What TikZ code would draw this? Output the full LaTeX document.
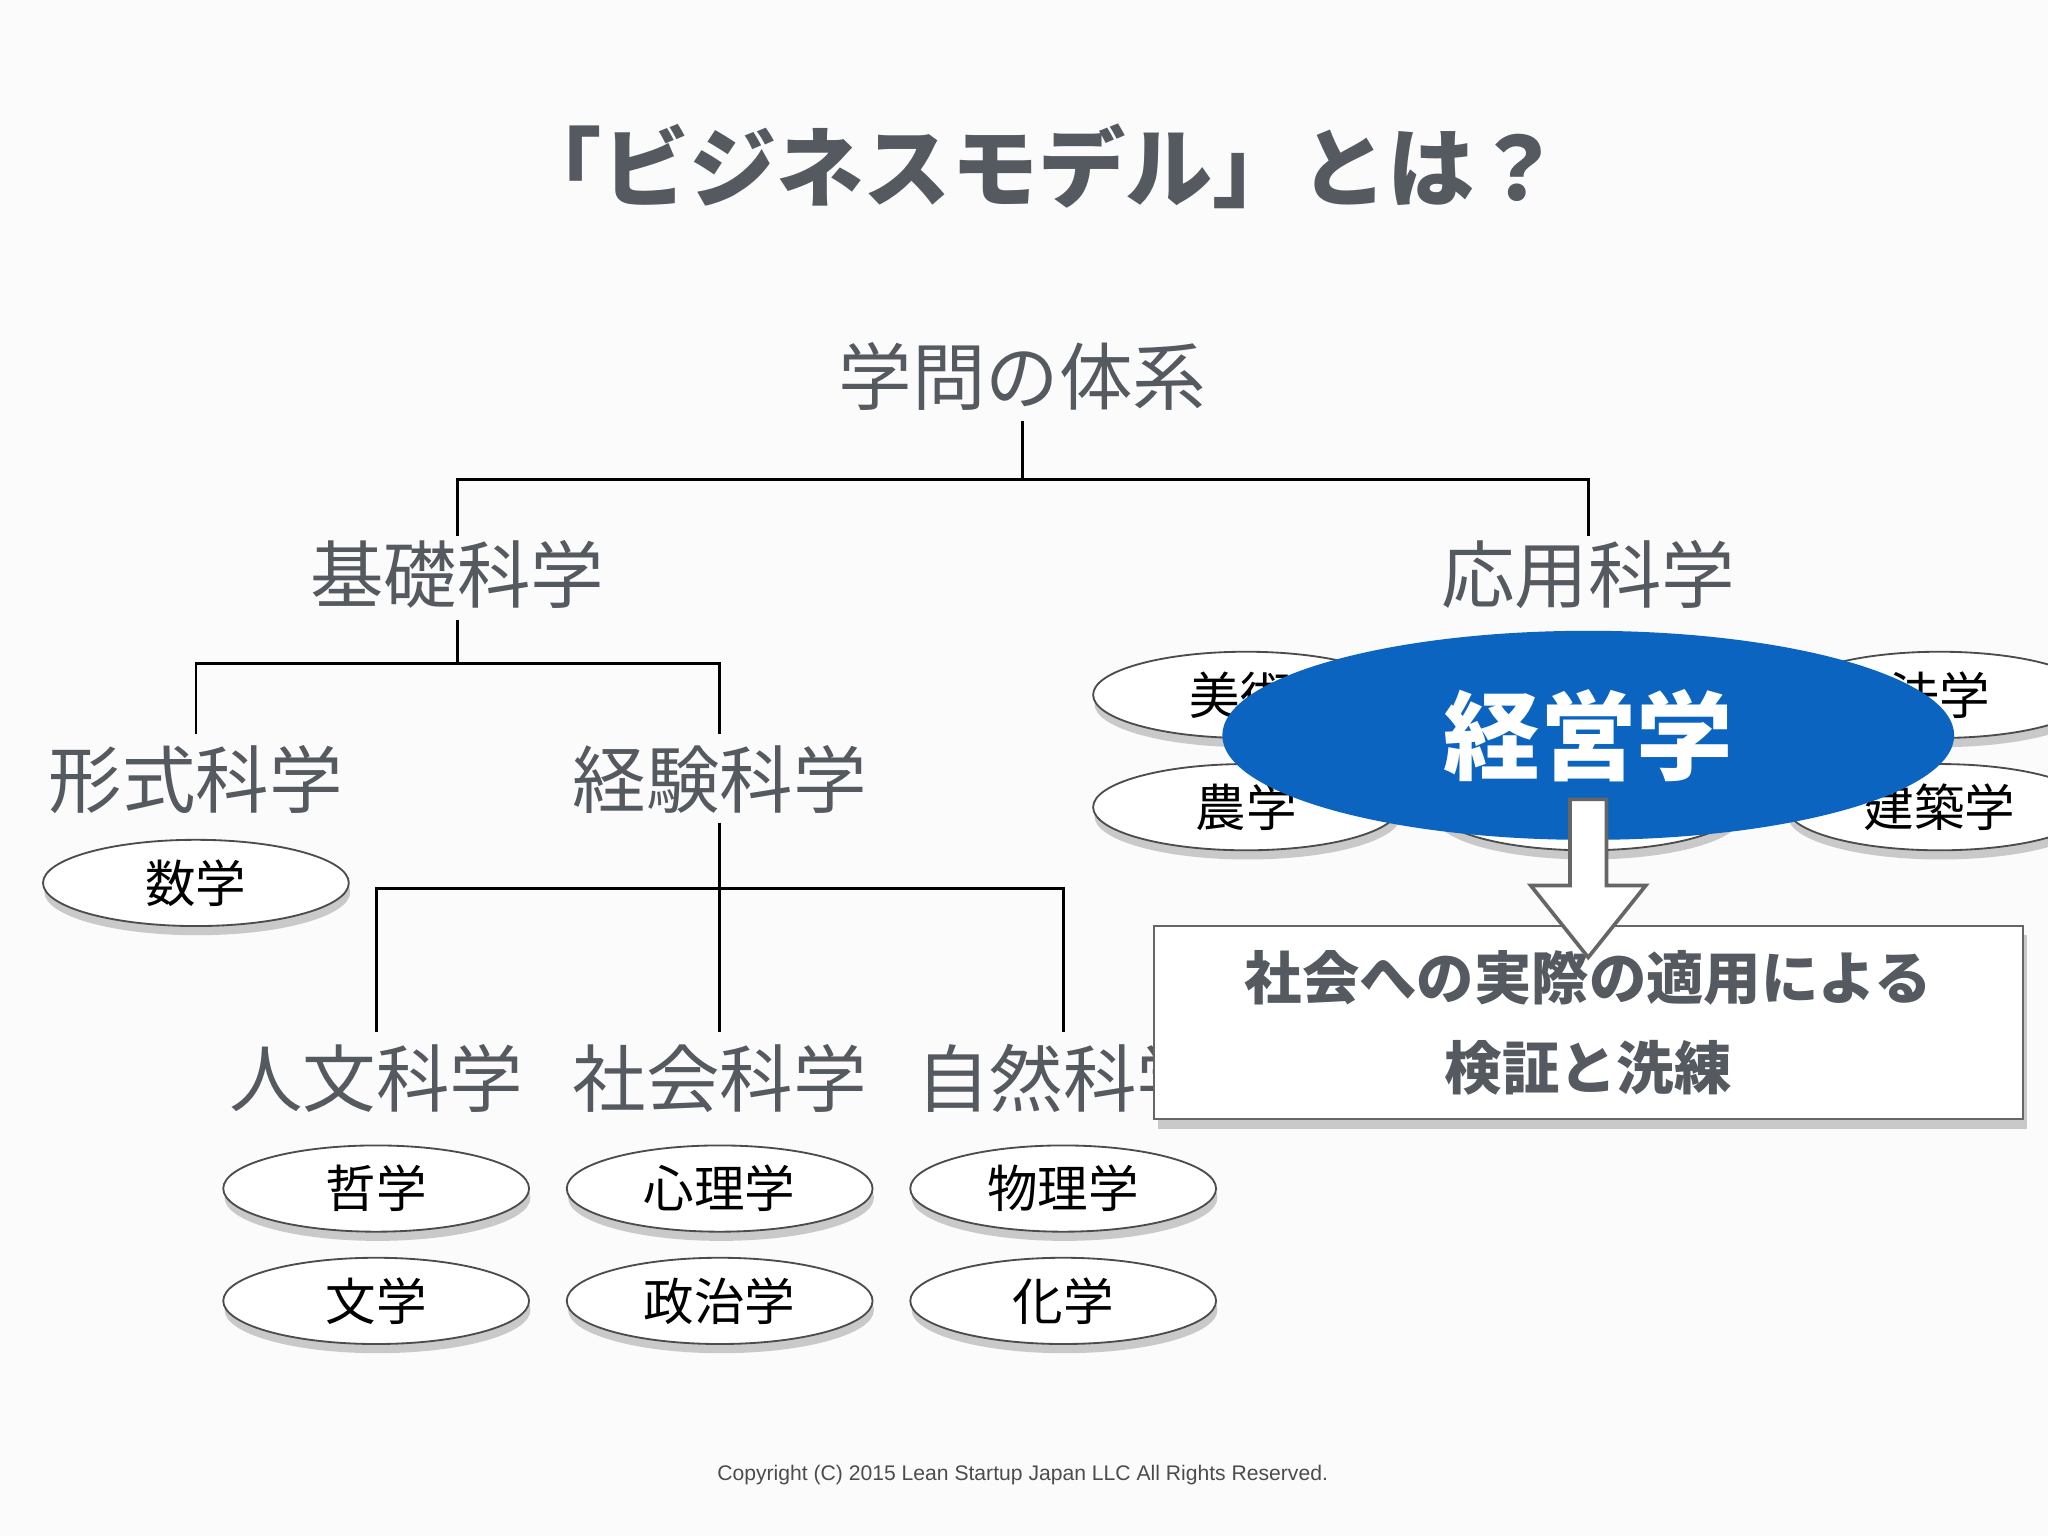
\documentclass[tikz,border=0pt]{standalone}
\usepackage{fontspec}
\setmainfont{Noto Sans CJK JP}
\newfontfamily\latinf{Liberation Sans}
\usetikzlibrary{shapes.geometric,shadows}
\definecolor{tgray}{HTML}{555A60}
\definecolor{bblue}{HTML}{0A64C0}
\tikzset{
 lbl/.style={text=tgray,font=\fontsize{16}{18}\selectfont,inner sep=0pt},
 el/.style={ellipse,draw=black!70,fill=white,minimum width=2.34cm,minimum height=0.66cm,inner sep=0pt,
   font=\fontsize{11}{13}\selectfont,drop shadow={shadow xshift=0.3pt,shadow yshift=-2pt,fill=black!40}},
 ln/.style={draw=black,line width=0.6pt}
}
\begin{document}
\begin{tikzpicture}[x=0.01cm,y=-0.01cm]
\fill[white!97!gray] (0,0) rectangle (1568,1176);
\useasboundingbox (0,0) rectangle (1568,1176);
\node[text=tgray,font=\fontsize{19}{22}\selectfont\bfseries] (title) at (795,127) {「ビジネスモデル」とは？};
\node[lbl] (root) at (783,288) {学問の体系};
\node[lbl] (kiso) at (350,440) {基礎科学};
\node[lbl] (oyo) at (1216,440) {応用科学};
\node[lbl] (keishiki) at (150,597) {形式科学};
\node[lbl] (keiken) at (551,597) {経験科学};
\node[lbl] (jinbun) at (288,826) {人文科学};
\node[lbl] (shakai) at (551,826) {社会科学};
\node[lbl] (shizen) at (814,826) {自然科学};
% tree lines
\coordinate (r1) at (783,322); \coordinate (r2) at (783,367);
\draw[ln] (r1) -- (r2);
\draw[ln] (350,410) |- (r2) -| (1216,410);
\draw[ln] (350,475) -- (350,508);
\draw[ln] (150,562) |- (350,508) -| (551,562);
\draw[ln] (551,630) -- (551,790);
\draw[ln] (288,790) |- (551,680) -| (814,790);
% ellipses
\node[el] (sugaku) at (150,676) {数学};
\node[el] (tetsu) at (288,910) {哲学};
\node[el] (bun) at (288,996) {文学};
\node[el] (shinri) at (551,910) {心理学};
\node[el] (seiji) at (551,996) {政治学};
\node[el] (butsuri) at (814,910) {物理学};
\node[el] (kagaku) at (814,996) {化学};
\node[el] (bijutsu) at (954,532) {\hspace*{0.3cm}美術学};
\node[el] (hou) at (1485,532) {法学};
\node[el] (nou) at (954,618) {農学};
\node[el] (kogaku) at (1215,618) {工学};
\node[el] (kenchiku) at (1485,618) {建築学};
\node[ellipse,fill=bblue,minimum width=5.6cm,minimum height=1.6cm,text=white,
  font=\fontsize{21}{23}\selectfont\bfseries] (keiei) at (1216,563) {経営学};
% box
\node[draw=black!60,fill=white,minimum width=6.65cm,minimum height=1.48cm,
  drop shadow={shadow xshift=1pt,shadow yshift=-2pt,fill=black!40},
  text=tgray,font=\fontsize{12.5}{19.5}\selectfont\bfseries,align=center] (box) at (1216,783)
  {社会への実際の適用による\\検証と洗練};
% arrow
\coordinate (a0) at (1216,612);
\draw[black!60,fill=white,line width=0.8pt] (1202,612) -- (1230,612) -- (1230,678) -- (1260,678)
  -- (1216,733) -- (1172,678) -- (1202,678) -- cycle;
\node[text=black!70,font=\latinf\fontsize{4.6}{6}\selectfont] (copy) at (783,1129) {Copyright (C) 2015 Lean Startup Japan LLC All Rights Reserved.};
\end{tikzpicture}
\end{document}
